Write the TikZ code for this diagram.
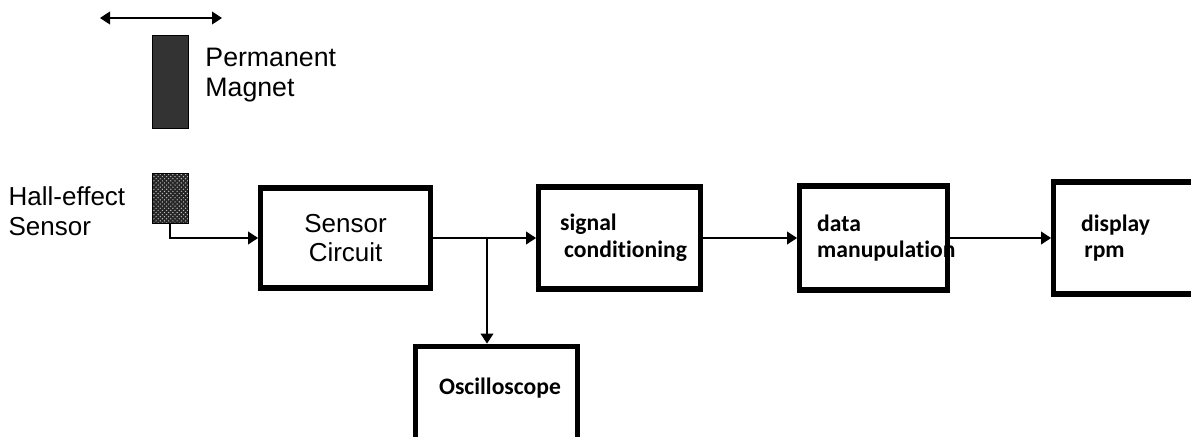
\documentclass[tikz,border=0pt]{standalone}
\usepackage{fontspec}
\setmainfont{Liberation Sans}
\newfontfamily\calib{Carlito}[RawFeature=-liga]
\usetikzlibrary{positioning,arrows.meta,patterns}
\hyphenpenalty=10000
\exhyphenpenalty=10000

\begin{document}
\begin{tikzpicture}[>={Triangle[length=2.5mm,width=3.2mm]}, line width=0.9pt,
  blk/.style={draw=black, line width=3.6pt, fill=white},
  plain/.style={font=\fontsize{18.5}{21}\selectfont, align=left, inner sep=0pt},
  bld/.style={font=\calib\bfseries\fontsize{16.8}{19}\selectfont, align=left}]
\useasboundingbox (0,0) rectangle (29.775,10.9);
% magnet and hall sensor
\coordinate (swingL) at (2.5,10.45);
\coordinate (swingR) at (5.55,10.45);
\draw[<->] (swingL) -- (swingR);
\node[draw, fill=black!80, line width=0.6pt, inner sep=0pt, minimum width=0.9cm, minimum height=2.33cm] (magnet) at (4.25,8.86) {};
\node[plain, font=\fontsize{19}{21}\selectfont, anchor=west] (magnetlbl) at (5.12,9.02) {Permanent\\Magnet};
\node[draw, line width=0.6pt, inner sep=0pt, minimum width=0.9cm, minimum height=1.25cm,
      preaction={fill=black!85}, pattern=crosshatch dots, pattern color=white!75!black] (hall) at (4.25,5.95) {};
\node[plain, anchor=west] (halllbl) at (0.2,5.62) {Hall-effect\\Sensor};
% signal chain
\node[blk, font=\fontsize{18.5}{21}\selectfont, align=center, minimum width=4.25cm, minimum height=2.5cm] (circuit) at (8.64,4.95) {Sensor\\Circuit};
\node[blk, bld, text width=2.97cm, inner xsep=0.54cm, minimum height=2.55cm] (cond) at (15.49,4.95) {signal\\\hspace*{1mm}conditioning};
\node[blk, bld, text width=2.82cm, inner xsep=0.44cm, minimum height=2.6cm] (data) at (21.84,4.95) {data\\manupulation};
\node[blk, bld, text width=2.62cm, inner xsep=0.69cm, minimum height=2.8cm] (disp) at (28.34,4.95) {display\\\hspace*{0.8mm}rpm};
% scope branch
\node[blk, anchor=north, minimum width=4.05cm, minimum height=3cm] (osc) at (12.41,2.31) {};
\node[bld] (osclbl) at (12.5,1.2) {Oscilloscope};
\coordinate (split) at (12.175,4.95);
\draw[->] (hall.south) |- (circuit.west);
\draw[->] (circuit) -- (cond);
\draw[->] (split) -- (split |- osc.north);
\draw[->] (cond) -- (data);
\draw[->] (data) -- (disp);
\end{tikzpicture}
\end{document}
